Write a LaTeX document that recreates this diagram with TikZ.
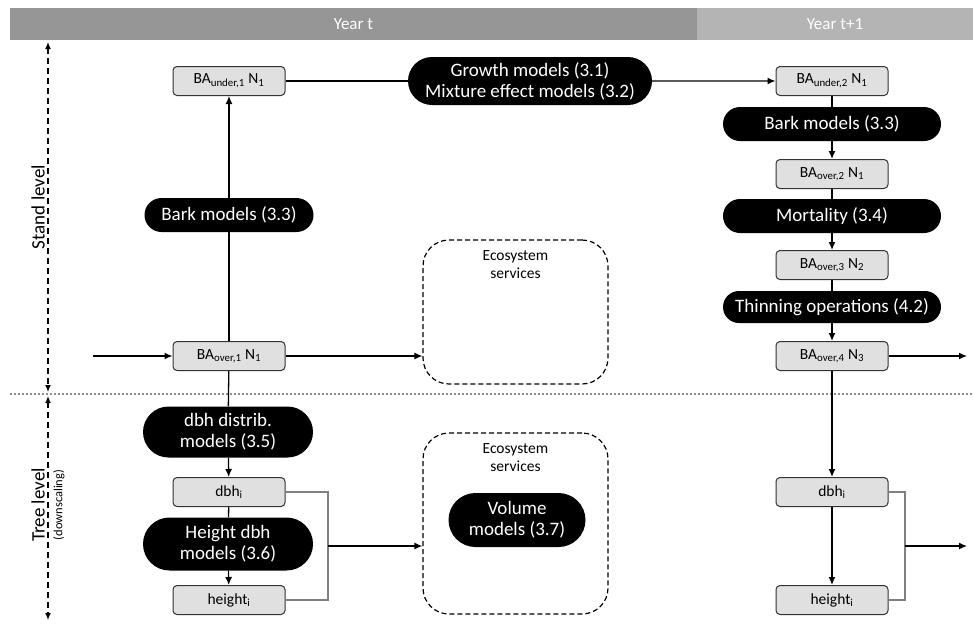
\documentclass[tikz,border=0pt]{standalone}
\usepackage{fontspec}
\setmainfont{Carlito}
\usetikzlibrary{positioning, arrows.meta, shapes.misc}
\definecolor{headdark}{HTML}{969696}
\definecolor{headlight}{HTML}{B4B4B4}
\definecolor{boxgray}{HTML}{E0E0E0}
\tikzset{x=1pt, y=-1pt, % one unit is one pixel of the layout, y runs downwards
var/.style={ % Grey boxes with the stand and tree variables
draw=black!80, line width=1pt, fill=boxgray, rounded corners=4pt,
minimum width=112pt, minimum height=29pt, inner sep=0pt,
font=\fontsize{15.5}{17}\selectfont},
model/.style={ % Black pills for the models
rounded rectangle, fill=black, text=white, align=center, inner sep=0pt,
font=\fontsize{19}{21}\selectfont},
eco/.style={ % Dashed frames for the ecosystem services
draw, line width=1.2pt, dash pattern=on 5pt off 3pt, rounded corners=26pt, minimum width=185pt},
year/.style={text=white, minimum height=32pt, inner sep=0pt,
font=\fontsize{17}{19}\selectfont},
every edge/.style={ % Sets the properties for each arrow
draw, -{Latex[length=8pt,width=7pt]}, line width=1.3pt},
link/.style={line width=1.3pt}, % plain connector, no tip
bracket/.style={draw=black!50, line width=1.1pt},
level/.style={line width=1.3pt, dash pattern=on 6pt off 4pt,
{Latex[length=7pt,width=6pt]}-{Latex[length=7pt,width=6pt]}}}

\begin{document}
\begin{tikzpicture}
    \useasboundingbox (0,0) rectangle (973,624);

    % header
    \node[year, fill=headdark, minimum width=687pt] (yt) at (353.5,24) {Year t};
    \node[year, fill=headlight, minimum width=276pt] (yt1) at (835,24) {Year t+1};
    \draw[black!45, line width=1.1pt, dash pattern=on 2pt off 2pt] (10,394) -- (973,394);

    % levels
    \coordinate (s1) at (48,42);
    \coordinate (s2) at (48,392);
    \coordinate (t1) at (48,396);
    \coordinate (t2) at (48,620);
    \draw[level] (s1) -- (s2);
    \draw[level] (t1) -- (t2);
    \node[rotate=90, font=\fontsize{19}{21}\selectfont] (stand) at (38,207) {Stand level};
    \node[rotate=90, font=\fontsize{19}{21}\selectfont] (tree) at (38,505) {Tree level};
    \node[rotate=90, font=\fontsize{12.5}{14}\selectfont] (down) at (59,505) {(downscaling)};

    % year t, stand level
    \node[var] (bun1) at (229,81) {BA\textsubscript{under,1} N\textsubscript{1}};
    \node[model, minimum width=169pt, minimum height=34pt] (bark1) at (229,215) {Bark models (3.3)};
    \node[var] (bov1) at (229,356) {BA\textsubscript{over,1} N\textsubscript{1}};
    \node[model, minimum width=244pt, minimum height=48pt] (growth) at (530,81) {Growth models (3.1)\\Mixture effect models (3.2)};
    \node[eco, minimum height=144pt] (eco1) at (515.5,312) {};
    \node[font=\fontsize{15.5}{18}\selectfont, align=center] (ecot1) at (515.5,265) {Ecosystem\\services};

    % year t, tree level
    \node[model, minimum width=170pt, minimum height=51pt] (dbhd) at (228,432) {dbh distrib.\\models (3.5)};
    \node[var] (dbh1) at (229,492) {dbh\textsubscript{i}};
    \node[model, minimum width=170pt, minimum height=53pt] (hgtm) at (228,544) {Height dbh\\models (3.6)};
    \node[var] (hgt1) at (229,600) {height\textsubscript{i}};
    \node[eco, minimum height=181pt] (eco2) at (515.5,523.5) {};
    \node[font=\fontsize{15.5}{18}\selectfont, align=center] (ecot2) at (515.5,458) {Ecosystem\\services};
    \node[model, minimum width=137pt, minimum height=54pt] (vol) at (517,520) {Volume\\models (3.7)};

    % year t+1
    \node[var] (bun2) at (832,81) {BA\textsubscript{under,2} N\textsubscript{1}};
    \node[model, minimum width=218pt, minimum height=34pt] (bark2) at (832,124) {Bark models (3.3)};
    \node[var] (bov2) at (832,174) {BA\textsubscript{over,2} N\textsubscript{1}};
    \node[model, minimum width=218pt, minimum height=34pt] (mort) at (832,216) {Mortality (3.4)};
    \node[var] (bov3) at (832,265) {BA\textsubscript{over,3} N\textsubscript{2}};
    \node[model, minimum width=218pt, minimum height=32pt] (thin) at (832,307) {Thinning operations (4.2)};
    \node[var] (bov4) at (832,356) {BA\textsubscript{over,4} N\textsubscript{3}};
    \node[var] (dbh2) at (832,492) {dbh\textsubscript{i}};
    \node[var] (hgt2) at (832,600) {height\textsubscript{i}};

    % connectors, year t
    \coordinate (in) at (93,356);
    \draw (in) edge (bov1);
    \draw[link] (bov1) -- (bark1);
    \draw (bark1) edge (bun1);
    \draw[link] (bun1) -- (growth);
    \draw (growth) edge (bun2);
    \draw (bov1.east) edge (bov1.east -| eco1.west);
    \draw[link] (bov1) -- (dbhd);
    \draw (dbhd) edge (dbh1);
    \draw[link] (dbh1) -- (hgtm);
    \draw (hgtm) edge (hgt1);
    \coordinate (jl) at (328,546);
    \draw[bracket] (dbh1.east) -| (jl) |- (hgt1.east);
    \draw (jl) edge (jl -| eco2.west);

    % connectors, year t+1
    \draw[link] (bun2) -- (bark2);
    \draw (bark2) edge (bov2);
    \draw[link] (bov2) -- (mort);
    \draw (mort) edge (bov3);
    \draw[link] (bov3) -- (thin);
    \draw (thin) edge (bov4);
    \coordinate (out1) at (967,356);
    \draw (bov4) edge (out1);
    \draw (bov4) edge (dbh2);
    \draw (dbh2) edge (hgt2);
    \coordinate (jr) at (905,546);
    \draw[bracket] (dbh2.east) -| (jr) |- (hgt2.east);
    \coordinate (out2) at (967,546);
    \draw (jr) edge (out2);

\end{tikzpicture}
\end{document}
